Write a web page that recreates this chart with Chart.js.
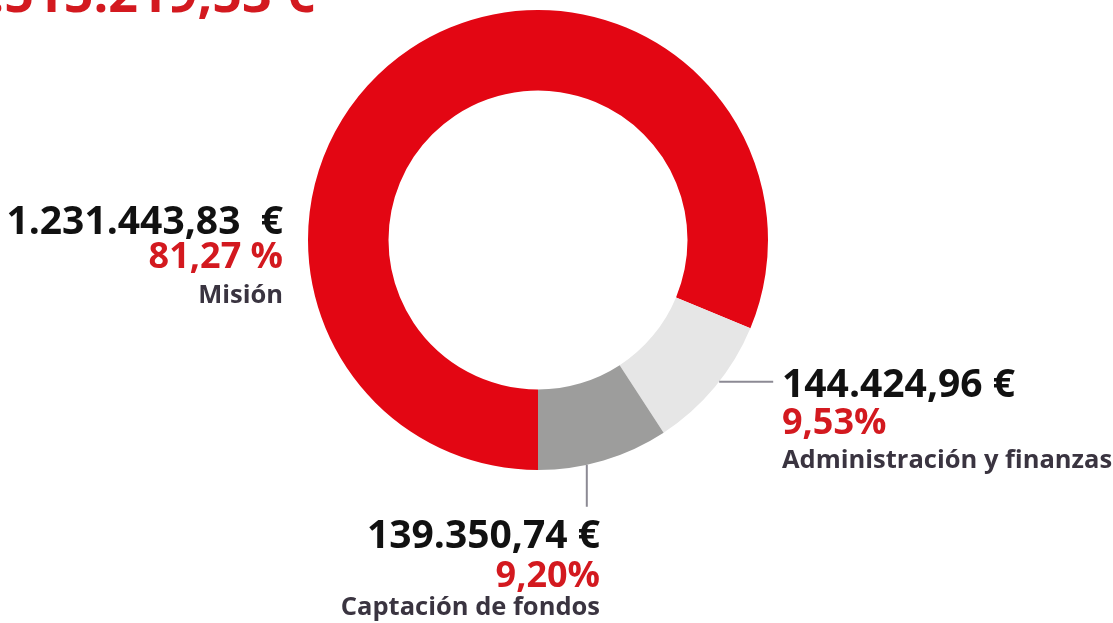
<!DOCTYPE html>
<html>
<head>
<meta charset="utf-8">
<script src="https://cdn.jsdelivr.net/npm/chart.js@4"></script>
<style>
  html, body { margin: 0; padding: 0; background: #fff; overflow: hidden; }
  #chart { display: block; }
</style>
</head>
<body>
<canvas id="chart" width="1113" height="623"></canvas>
<script>
// data
const categories = ['Misión', 'Administración y finanzas', 'Captación de fondos'];
const amounts = [1231443.83, 144424.96, 139350.74];
const amountLabels = ['1.231.443,83  €', '144.424,96 €', '139.350,74 €'];
const percentLabels = ['81,27 %', '9,53%', '9,20%'];
const totalLabel = '1.515.219,53 €';
const sliceColors = ['#E30613', '#E6E6E6', '#9D9D9C'];

// where each label block sits (text layout only)
const labelLayout = [
    { align: 'right', x: 283, base: [234, 268, 303], line: null },
    { align: 'left', x: 782, base: [397, 434, 468], line: { frac: 0.45, dir: 'h', len: 54 } },
    { align: 'right', x: 600, base: [548, 587, 615], line: { frac: 0.63, dir: 'v', len: 42 } }
];

const FONT = '"Open Sans", "Noto Sans", sans-serif';

const labelPlugin = {
    id: 'labels',
    afterDraw(chart) {
        const ctx = chart.ctx;
        const meta = chart.getDatasetMeta(0);
        ctx.save();

        // big total at the top (cut off by the page edge)
        ctx.fillStyle = '#D3191F';
        ctx.font = 'bold 52px ' + FONT;
        ctx.textAlign = 'right';
        ctx.textBaseline = 'alphabetic';
        ctx.fillText(totalLabel, 315, 12);

        labelLayout.forEach((lay, i) => {
            const arc = meta.data[i].getProps(['x', 'y', 'startAngle', 'endAngle', 'outerRadius'], true);

            // leader line from the ring edge
            if (lay.line) {
                const a = arc.startAngle + lay.line.frac * (arc.endAngle - arc.startAngle);
                const px = arc.x + Math.cos(a) * arc.outerRadius;
                const py = arc.y + Math.sin(a) * arc.outerRadius;
                ctx.strokeStyle = '#8C8A94';
                ctx.lineWidth = 2;
                ctx.beginPath();
                ctx.moveTo(px, py);
                if (lay.line.dir === 'h') ctx.lineTo(px + lay.line.len, py);
                else ctx.lineTo(px, py + lay.line.len);
                ctx.stroke();
            }

            ctx.textAlign = lay.align;
            ctx.fillStyle = '#111111';
            ctx.font = 'bold 39px ' + FONT;
            ctx.fillText(amountLabels[i], lay.x, lay.base[0]);

            ctx.fillStyle = '#D3191F';
            ctx.font = 'bold 36px ' + FONT;
            ctx.fillText(percentLabels[i], lay.x, lay.base[1]);

            ctx.fillStyle = '#3A3440';
            ctx.font = 'bold 25.5px ' + FONT;
            ctx.fillText(categories[i], lay.x, lay.base[2]);
        });
        ctx.restore();
    }
};

new Chart(document.getElementById('chart').getContext('2d'), {
    type: 'doughnut',
    data: {
        labels: categories,
        datasets: [{
            data: amounts,
            backgroundColor: sliceColors,
            borderWidth: 0,
            hoverOffset: 0
        }]
    },
    options: {
        responsive: false,
        devicePixelRatio: 1,
        animation: false,
        rotation: 180,
        cutout: '65%',
        layout: {
            padding: { left: 308, right: 345, top: 10, bottom: 153 }
        },
        plugins: {
            legend: { display: false },
            tooltip: { enabled: false }
        }
    },
    plugins: [labelPlugin]
});
</script>
</body>
</html>
